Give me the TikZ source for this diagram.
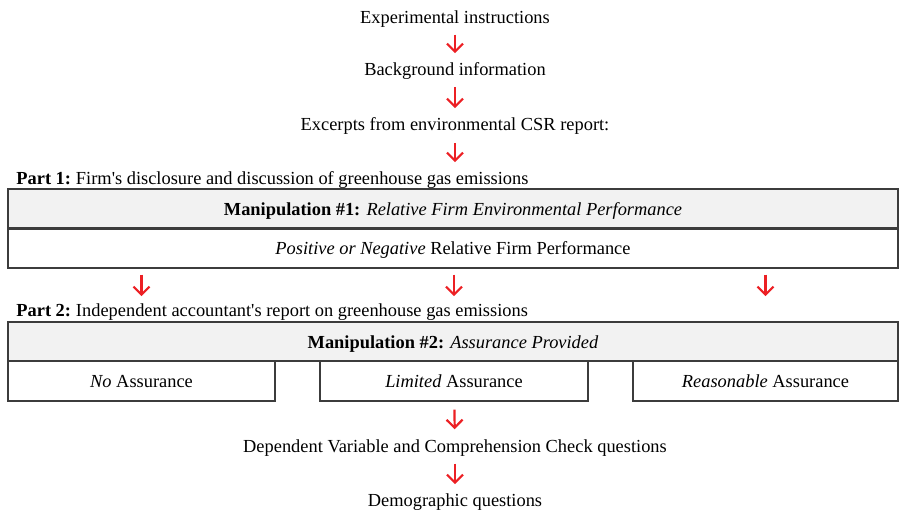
\documentclass[tikz,border=0pt]{standalone}
\usepackage{fontspec}
\setmainfont{Liberation Serif}
\usetikzlibrary{arrows.meta}
\definecolor{flowred}{RGB}{236,32,36}
\definecolor{hdrgray}{RGB}{242,242,242}
\definecolor{linegray}{RGB}{60,60,60}
\begin{document}
\begin{tikzpicture}[x=0.5pt, y=-0.5pt,
    every node/.style={font=\fontsize{9.2}{11}\selectfont},
    step text/.style={inner sep=2pt},
    part text/.style={anchor=west, inner sep=1pt},
    hdr/.style={draw=linegray, line width=0.6pt, fill=hdrgray, minimum height=19.5pt, inner sep=0pt, text height=7pt, text depth=0pt},
    cell/.style={draw=linegray, line width=0.6pt, fill=white, minimum height=20pt, inner sep=0pt, text height=7pt, text depth=0pt},
    flow/.style={draw=flowred, line width=1.1pt, -{Straight Barb[length=4pt, width=8pt]}}]
    \useasboundingbox (0,0) rectangle (899,512);
    % steps at the top
    \node[step text] (instr) at (455,19) {Experimental instructions};
    \node[step text] (backgr) at (455,71) {Background information};
    \node[step text] (excerpt) at (455,126) {Excerpts from environmental CSR report:};
    % part 1
    \node[part text] (part1) at (14,180) {\textbf{Part 1:}\hspace{-0.6pt} Firm\textquotesingle s disclosure and discussion of greenhouse gas emissions};
    \node[hdr, minimum width=445pt] (manip1) at (453,208.5) {\textbf{Manipulation \#1:} \textit{Relative Firm Environmental Performance}};
    \node[cell, minimum width=445pt] (perf) at (453,248) {\textit{Positive or Negative} Relative Firm Performance};
    \draw[linegray, line width=1.1pt] (manip1.south west) -- (manip1.south east); % thicker divider
    % part 2
    \node[part text] (part2) at (14,312) {\textbf{Part 2:}\hspace{-0.6pt} Independent accountant\textquotesingle s report on greenhouse gas emissions};
    \node[hdr, minimum width=445pt] (manip2) at (453,341.5) {\textbf{Manipulation \#2:} \textit{Assurance Provided}};
    \node[cell, minimum width=133.5pt] (noassur) at (141.5,381) {\textit{No} Assurance};
    \node[cell, minimum width=134pt] (limassur) at (454,381) {\textit{Limited} Assurance};
    \node[cell, minimum width=132.5pt] (reasassur) at (765.5,381) {\textit{Reasonable} Assurance};
    % questions
    \node[step text] (depvar) at (455,448) {Dependent Variable and Comprehension Check questions};
    \node[step text] (demogr) at (455,502) {Demographic questions};
    % arrows
    \draw[flow, shorten <=1.5pt, shorten >=2.5pt] (instr) -- (backgr);
    \draw[flow, shorten <=1.5pt, shorten >=2.5pt] (backgr) -- (excerpt);
    \draw[flow, shorten <=2pt, shorten >=3.5pt] (excerpt.south) -- (excerpt.south |- part1.north);
    \foreach \cellname in {noassur, limassur, reasassur}
        \draw[flow, shorten <=3pt, shorten >=2.5pt] (perf.south -| \cellname) -- (part2.north -| \cellname);
    \draw[flow, shorten <=4pt, shorten >=3pt] (limassur) -- (depvar);
    \draw[flow, shorten <=1.5pt, shorten >=2.5pt] (depvar) -- (demogr);
\end{tikzpicture}
\end{document}
